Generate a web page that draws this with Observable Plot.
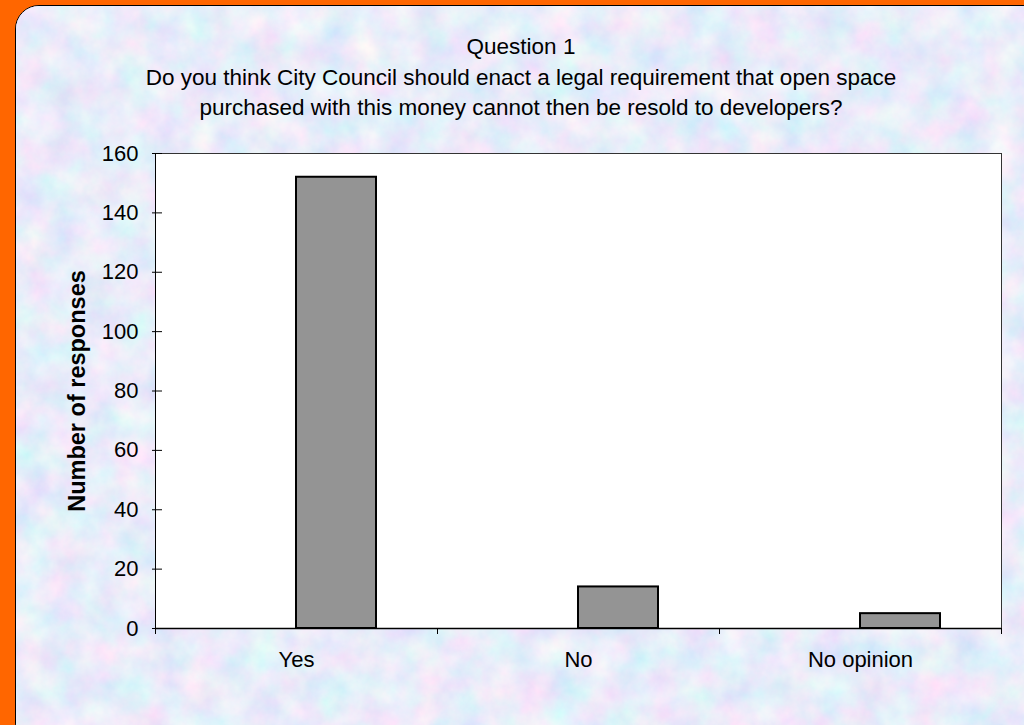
<!DOCTYPE html>
<html><head><meta charset="utf-8">
<script src="https://cdn.jsdelivr.net/npm/d3@7"></script>
<script src="https://cdn.jsdelivr.net/npm/@observablehq/plot@0.6"></script>
<style>
html,body{margin:0;padding:0;}
body{width:1024px;height:725px;overflow:hidden;background:#FF6600;position:relative;font-family:"Liberation Sans",Arial,sans-serif;color:#000;}
#panel{position:absolute;left:15px;top:5px;width:1030px;height:740px;border:1px solid #000;border-radius:24px;overflow:hidden;background:#cfdcf4;}
#tex{position:absolute;left:0;top:0;}
#title{position:absolute;left:0;top:32px;width:1042px;text-align:center;font-size:22.5px;line-height:30.5px;}
#chart{position:absolute;left:0;top:130px;}
</style></head>
<body>
<div id="panel">
<svg id="tex" width="1040" height="750">
<filter id="n" x="0" y="0" width="100%" height="100%">
<feTurbulence type="fractalNoise" baseFrequency="0.03" numOctaves="5" seed="7" result="t"/>
<feColorMatrix in="t" type="matrix" values="0.5 0 0 0 0.56  0 0.32 0 0 0.68  0 0 0.08 0 0.91  0 0 0 0 1"/>
</filter>
<rect width="1040" height="750" filter="url(#n)"/>
</svg>
</div>
<div id="title">Question 1<br>Do you think City Council should enact a legal requirement that open space<br>purchased with this money cannot then be resold to developers?</div>
<div id="chart"></div>
<script>
const categories = ["Yes", "No", "No opinion"];
const responses = [152, 14, 5];
const yTicks = [0, 20, 40, 60, 80, 100, 120, 140, 160];
const yLabel = "Number of responses";

const data = categories.map((c, i) => ({category: c, count: responses[i]}));

const chart = Plot.plot({
  width: 1024,
  height: 595,
  marginLeft: 155,
  marginRight: 23,
  marginTop: 23,
  marginBottom: 97,
  style: {background: "transparent", fontFamily: "'Liberation Sans', Arial, sans-serif", fontSize: "22px", color: "#000"},
  x: {type: "band", domain: categories, padding: 0, label: null},
  y: {domain: [0, 160], label: null},
  marks: [
    Plot.frame({fill: "white", stroke: null}),
    Plot.barY(data, {x: "category", y: "count", fill: "#949494", stroke: "#000", strokeWidth: 2, insetLeft: 141, insetRight: 61}),
    Plot.frame({stroke: "#333", fill: null}),
    Plot.ruleY([0], {stroke: "#000", strokeWidth: 1.5}),
    Plot.ruleX([categories[0]], {stroke: "#000", dx: -141}),
    Plot.axisY(yTicks, {tickSize: 0, tickPadding: 17, fontSize: 22}),
    Plot.axisY(yTicks, {tickSize: -10, insetLeft: -3, tickFormat: () => "", stroke: "#000"}),
    Plot.axisX({tickSize: 0, tickPadding: 23, fontSize: 22}),
    Plot.axisX({tickSize: 6, dx: -141, tickFormat: () => "", stroke: "#000"}),
    Plot.axisX({tickSize: 6, dx: 141, tickFormat: () => "", stroke: "#000"}),
    Plot.text([yLabel], {text: d => d, frameAnchor: "left", textAnchor: "middle", rotate: -90, dx: -78, fontWeight: "bold", fontSize: 23.5})
  ]
});
document.getElementById("chart").appendChild(chart);
</script>
</body></html>
